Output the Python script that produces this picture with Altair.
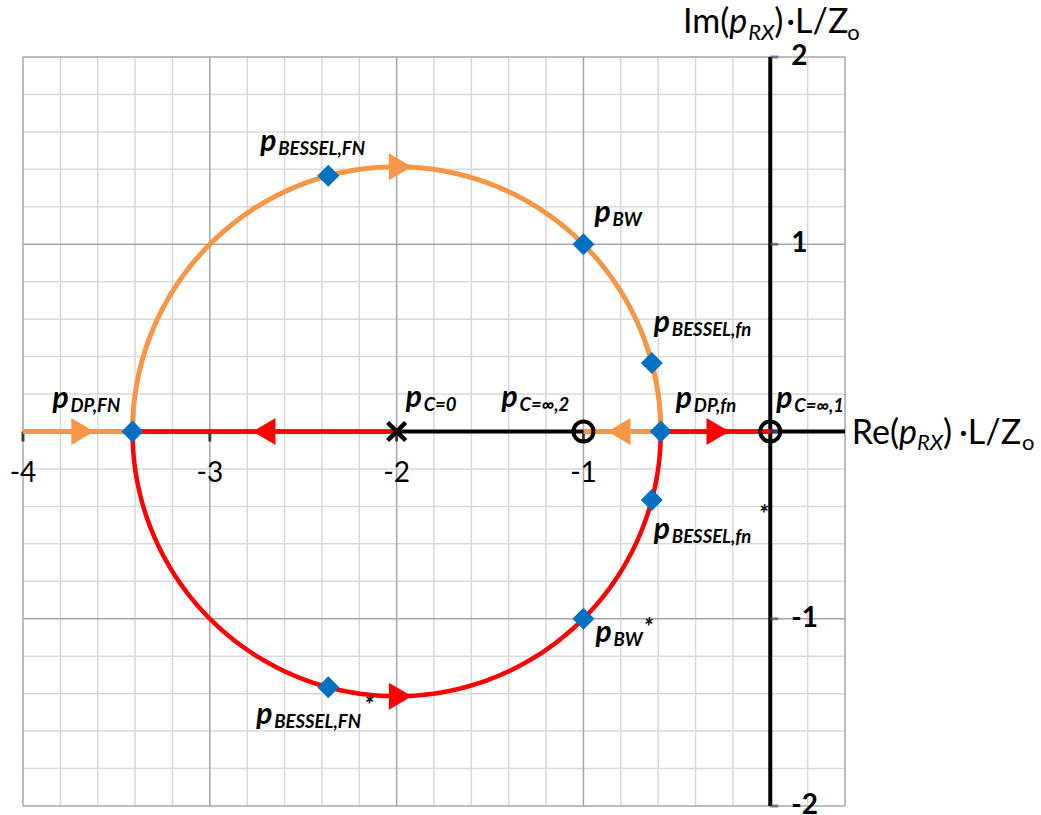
import altair as alt
import numpy as np
import pandas as pd

# ---- axes (units of L/Zo) -------------------------------------------------
X_MIN, X_MAX = -4.0, 0.4
Y_MIN, Y_MAX = -2.0, 2.0
GRID_STEP = 0.2

x_tick_values = [-4, -3, -2, -1]
x_tick_labels = ["-4", "-3", "-2", "-1"]
y_tick_values = [2, 1, -1, -2]
y_tick_labels = ["2", "1", "-1", "-2"]
y_tick_marks = [-2, -1, 0, 1, 2]

# ---- root locus geometry --------------------------------------------------
locus_center = -2.0          # circle centre on the real axis
locus_radius = 1.414         # passes through p_BW = -1 ± j
dp_FN = -3.414               # break-in point, left
dp_fn = -0.586               # break-in point, right

pole_re = [-2.0]             # p_C=0
pole_im = [0.0]
zero_re = [-1.0, 0.0]        # p_C=inf,2 and p_C=inf,1
zero_im = [0.0, 0.0]

# marked design points
design_re = [-3.414, -0.586, -2.366, -1.0, -0.634, -2.366, -1.0, -0.634]
design_im = [0.0, 0.0, 1.366, 1.0, 0.366, -1.366, -1.0, -0.366]

# direction arrows along the branches
arrow_re = [-3.68, -1.98, -0.81, -2.71, -0.28, -1.98]
arrow_im = [0.0, 1.414, 0.0, 0.0, 0.0, -1.414]
arrow_dir = ["right", "right", "left", "left", "right", "right"]
arrow_branch = ["b1", "b1", "b1", "b2", "b2", "b2"]

# point labels: p_<sub>, conjugates carry a superscript *
label_sub = ["BESSEL,FN", "BW", "BESSEL,fn", "DP,FN", "C=0", "C=∞,2",
             "DP,fn", "C=∞,1", "BESSEL,fn", "BW", "BESSEL,FN"]
label_re = [-2.366, -1.0, -0.634, -3.414, -2.0, -1.0, -0.586, 0.0, -0.634, -1.0, -2.366]
label_im = [1.366, 1.0, 0.366, 0.0, 0.0, 0.0, 0.0, 0.0, -0.366, -1.0, -1.366]
label_conj = [False] * 8 + [True] * 3

ORANGE = "#F79646"
RED = "#FF0000"
BLUE = "#0070C0"
PURPLE = "#604A7B"
FONT = "Lato"

xs = alt.Scale(domain=[X_MIN, X_MAX], nice=False, zero=False)
ys = alt.Scale(domain=[Y_MIN, Y_MAX], nice=False, zero=False)


def pos(df):
    return alt.Chart(df).encode(
        x=alt.X("re:Q", scale=xs, axis=None),
        y=alt.Y("im:Q", scale=ys, axis=None),
    )


# ---- grid -----------------------------------------------------------------
gx = np.round(np.arange(X_MIN, X_MAX + 1e-9, GRID_STEP), 1)
gy = np.round(np.arange(Y_MIN, Y_MAX + 1e-9, GRID_STEP), 1)
is_major_x = [float(v).is_integer() or v == X_MAX for v in gx]
is_major_y = [float(v).is_integer() for v in gy]

minor_x = pd.DataFrame({"re": [v for v, m in zip(gx, is_major_x) if not m]})
major_x = pd.DataFrame({"re": [v for v, m in zip(gx, is_major_x) if m]})
minor_y = pd.DataFrame({"im": [v for v, m in zip(gy, is_major_y) if not m]})
major_y = pd.DataFrame({"im": [v for v, m in zip(gy, is_major_y) if m]})

grid = [
    alt.Chart(minor_x).mark_rule(color="#d9d9d9", strokeWidth=1.5).encode(x=alt.X("re:Q", scale=xs, axis=None)),
    alt.Chart(minor_y).mark_rule(color="#d9d9d9", strokeWidth=1.5).encode(y=alt.Y("im:Q", scale=ys, axis=None)),
    alt.Chart(major_x).mark_rule(color="#a6a6a6", strokeWidth=1.5).encode(x=alt.X("re:Q", scale=xs, axis=None)),
    alt.Chart(major_y).mark_rule(color="#a6a6a6", strokeWidth=1.5).encode(y=alt.Y("im:Q", scale=ys, axis=None)),
]

# ---- axis lines and ticks --------------------------------------------------
origin = pd.DataFrame({"re": [0.0], "im": [0.0]})
axes_lines = [
    alt.Chart(origin).mark_rule(color="black", strokeWidth=4).encode(y=alt.Y("im:Q", scale=ys, axis=None)),
    alt.Chart(origin).mark_rule(color="black", strokeWidth=4).encode(x=alt.X("re:Q", scale=xs, axis=None)),
]
xt = pd.DataFrame({"re": x_tick_values, "im": [0.0] * len(x_tick_values), "lab": x_tick_labels})
yt = pd.DataFrame({"re": [0.0] * len(y_tick_values), "im": y_tick_values, "lab": y_tick_labels})
ym = pd.DataFrame({"re": [0.0] * len(y_tick_marks), "im": y_tick_marks})
ticks = [
    pos(xt).mark_tick(orient="vertical", size=10, thickness=3, yOffset=5, color="black"),
    pos(ym).mark_tick(orient="horizontal", size=8, thickness=3, xOffset=4, color=PURPLE),
]
tick_labels = [
    pos(xt).mark_text(font=FONT, fontSize=28, align="center", baseline="alphabetic",
                      dy=50, color="black").encode(text="lab:N"),
    pos(yt).mark_text(font=FONT, fontSize=28, fontWeight="bold", align="left",
                      baseline="middle", dx=21, color="black").encode(text="lab:N"),
]

# ---- locus branches ----------------------------------------------------------
theta = np.linspace(np.pi, 0.0, 181)
arc_re = locus_center + locus_radius * np.cos(theta)
arc_im = locus_radius * np.sin(theta)


def seg(name, re, im):
    return pd.DataFrame({"seg": name, "re": list(re), "im": list(im), "k": range(len(re))})


orange_df = pd.concat([
    seg("a", [X_MIN, dp_FN], [0, 0]),
    seg("b", arc_re, arc_im),
    seg("c", [dp_fn, zero_re[0]], [0, 0]),
])
red_df = pd.concat([
    seg("d", [dp_FN, pole_re[0]], [0, 0]),
    seg("e", arc_re, -arc_im),
    seg("f", [dp_fn, zero_re[1]], [0, 0]),
])
branches = [
    pos(orange_df).mark_line(color=ORANGE, strokeWidth=5).encode(detail="seg:N", order="k:Q"),
    pos(red_df).mark_line(color=RED, strokeWidth=4.5).encode(detail="seg:N", order="k:Q"),
]

# ---- arrows / markers ------------------------------------------------------
RIGHT_TRI = "M-0.85,-1L0.85,0L-0.85,1Z"
LEFT_TRI = "M0.85,-1L-0.85,0L0.85,1Z"
arrows_df = pd.DataFrame({"re": arrow_re, "im": arrow_im, "dir": arrow_dir, "branch": arrow_branch})
arrows = pos(arrows_df).mark_point(filled=True, opacity=1, size=729, strokeWidth=0).encode(
    shape=alt.Shape("dir:N", scale=alt.Scale(domain=["right", "left"], range=[RIGHT_TRI, LEFT_TRI]), legend=None),
    color=alt.Color("branch:N", scale=alt.Scale(domain=["b1", "b2"], range=[ORANGE, RED]), legend=None),
)

design = pos(pd.DataFrame({"re": design_re, "im": design_im})).mark_point(
    shape="diamond", filled=True, opacity=1, size=484, color=BLUE, strokeWidth=0)
poles = pos(pd.DataFrame({"re": pole_re, "im": pole_im})).mark_point(
    shape="M-1,-1L1,1M-1,1L1,-1", filled=False, opacity=1, size=324, color="black", strokeWidth=4.5)
zeros = pos(pd.DataFrame({"re": zero_re, "im": zero_im})).mark_point(
    shape="circle", filled=False, opacity=1, size=400, color="black", strokeWidth=4)

# ---- point labels ------------------------------------------------------------
# (dx, dy) of the "p" baseline from its point; (dx, dy) of the conjugate star
label_offsets = [(-68, -25), (11, -22), (2, -31), (-80, -24), (9, -25), (-82, -25),
                 (15, -24), (6, -24), (2, 39), (12, 23), (-72, 37)]
star_offsets = {8: (105, -16), 9: (48, -6), 10: (108, -10)}

labels = []
for i, sub in enumerate(label_sub):
    dx, dy = label_offsets[i]
    base = pos(pd.DataFrame({"re": [label_re[i]], "im": [label_im[i]]}))
    style = dict(font=FONT, fontWeight="bold", fontStyle="italic", align="left",
                 baseline="alphabetic", color="black")
    labels.append(base.mark_text(text="p", fontSize=30, dx=dx, dy=dy, **style))
    labels.append(base.mark_text(text=sub, fontSize=18.5, dx=dx + 18, dy=dy + 4, **style))
    if label_conj[i]:
        sdx, sdy = star_offsets[i]
        labels.append(base.mark_text(text="*", fontSize=24, dx=dx + sdx, dy=dy + sdy, **style))

# ---- axis titles -------------------------------------------------------------
def title_parts(anchor_re, anchor_im, parts):
    base = pos(pd.DataFrame({"re": [anchor_re], "im": [anchor_im]}))
    out = []
    for text, size, italic, align, dx, dy in parts:
        out.append(base.mark_text(text=text, font=FONT, fontSize=size,
                                  fontStyle="italic" if italic else "normal",
                                  align=align, baseline="alphabetic", dx=dx, dy=dy, color="black"))
    return out


re_title = title_parts(X_MAX, 0.0, [
    ("Re(", 34, False, "right", 54, 12), ("p", 34, True, "left", 54, 12),
    ("RX", 22, True, "left", 72, 18), (")", 34, False, "left", 98, 12),
    ("·L/Z", 34, False, "left", 114, 12), ("o", 22, False, "left", 177, 18),
])
im_title = title_parts(0.0, Y_MAX, [
    ("Im(", 34, False, "right", -41, -24), ("p", 34, True, "left", -41, -24),
    ("RX", 22, True, "left", -22, -17), (")", 34, False, "left", 4, -24),
    ("·L/Z", 34, False, "left", 16, -24), ("o", 22, False, "left", 77, -17),
])

chart = alt.layer(
    *grid, *axes_lines, *ticks, *branches, arrows, design, poles, zeros,
    *labels, *tick_labels, *re_title, *im_title,
).properties(
    width=822, height=749,
    padding={"left": 23, "top": 57, "right": 196, "bottom": 9},
    autosize=alt.AutoSizeParams(type="none"),
    background="white",
).configure_view(stroke=None)

chart.save("out.html", embed_options={"renderer": "svg", "actions": False})
